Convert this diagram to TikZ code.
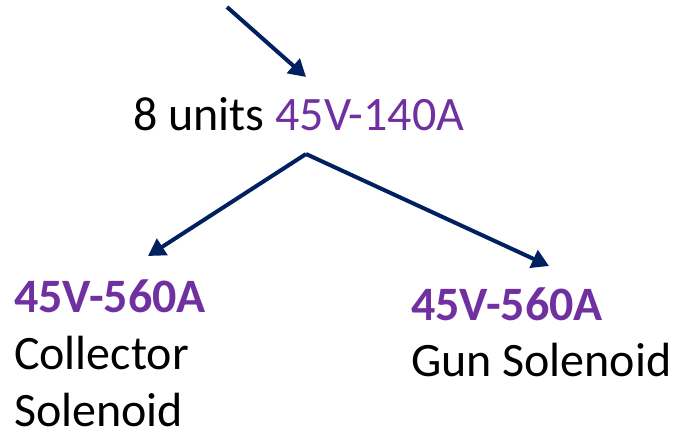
\documentclass[tikz,border=0pt]{standalone}
\usepackage{fontspec}
\setmainfont{Carlito}
\usetikzlibrary{arrows.meta}
\definecolor{navy}{HTML}{002060}
\definecolor{violet}{HTML}{7030A0}
\begin{document}
\begin{tikzpicture}[x=1pt,y=-1pt,
  lbl/.style={inner sep=0pt,outer sep=0pt,anchor=base west,font=\fontsize{48}{57.5}\selectfont},
  conn/.style={draw=navy,line width=4pt,-{Triangle[length=17pt,width=19pt]}}]
\useasboundingbox (0,0) rectangle (674,432);
\node[lbl] (top) at (133,130) {8 units \textcolor{violet}{45V-140A}};
\node[lbl,text=violet,font=\fontsize{48}{57.5}\selectfont\bfseries] (lv) at (14,312) {45V-560A};
\node[lbl] (lc) at (14,369) {Collector};
\node[lbl,text depth=0pt] (ls) at (14,426) {Solenoid};
\node[lbl,text=violet,font=\fontsize{48}{57.5}\selectfont\bfseries] (rv) at (411,320) {45V-560A};
\node[lbl] (rg) at (411,376) {Gun Solenoid};
\coordinate (src) at (227,7);
\coordinate (tip) at (306,77);
\coordinate (apex) at (306,154);
\coordinate (ltip) at (148,256);
\coordinate (rtip) at (549,266);
\draw[conn] (src) -- (tip);
\draw[conn] (apex) -- (ltip);
\draw[conn] (apex) -- (rtip);
\end{tikzpicture}
\end{document}
